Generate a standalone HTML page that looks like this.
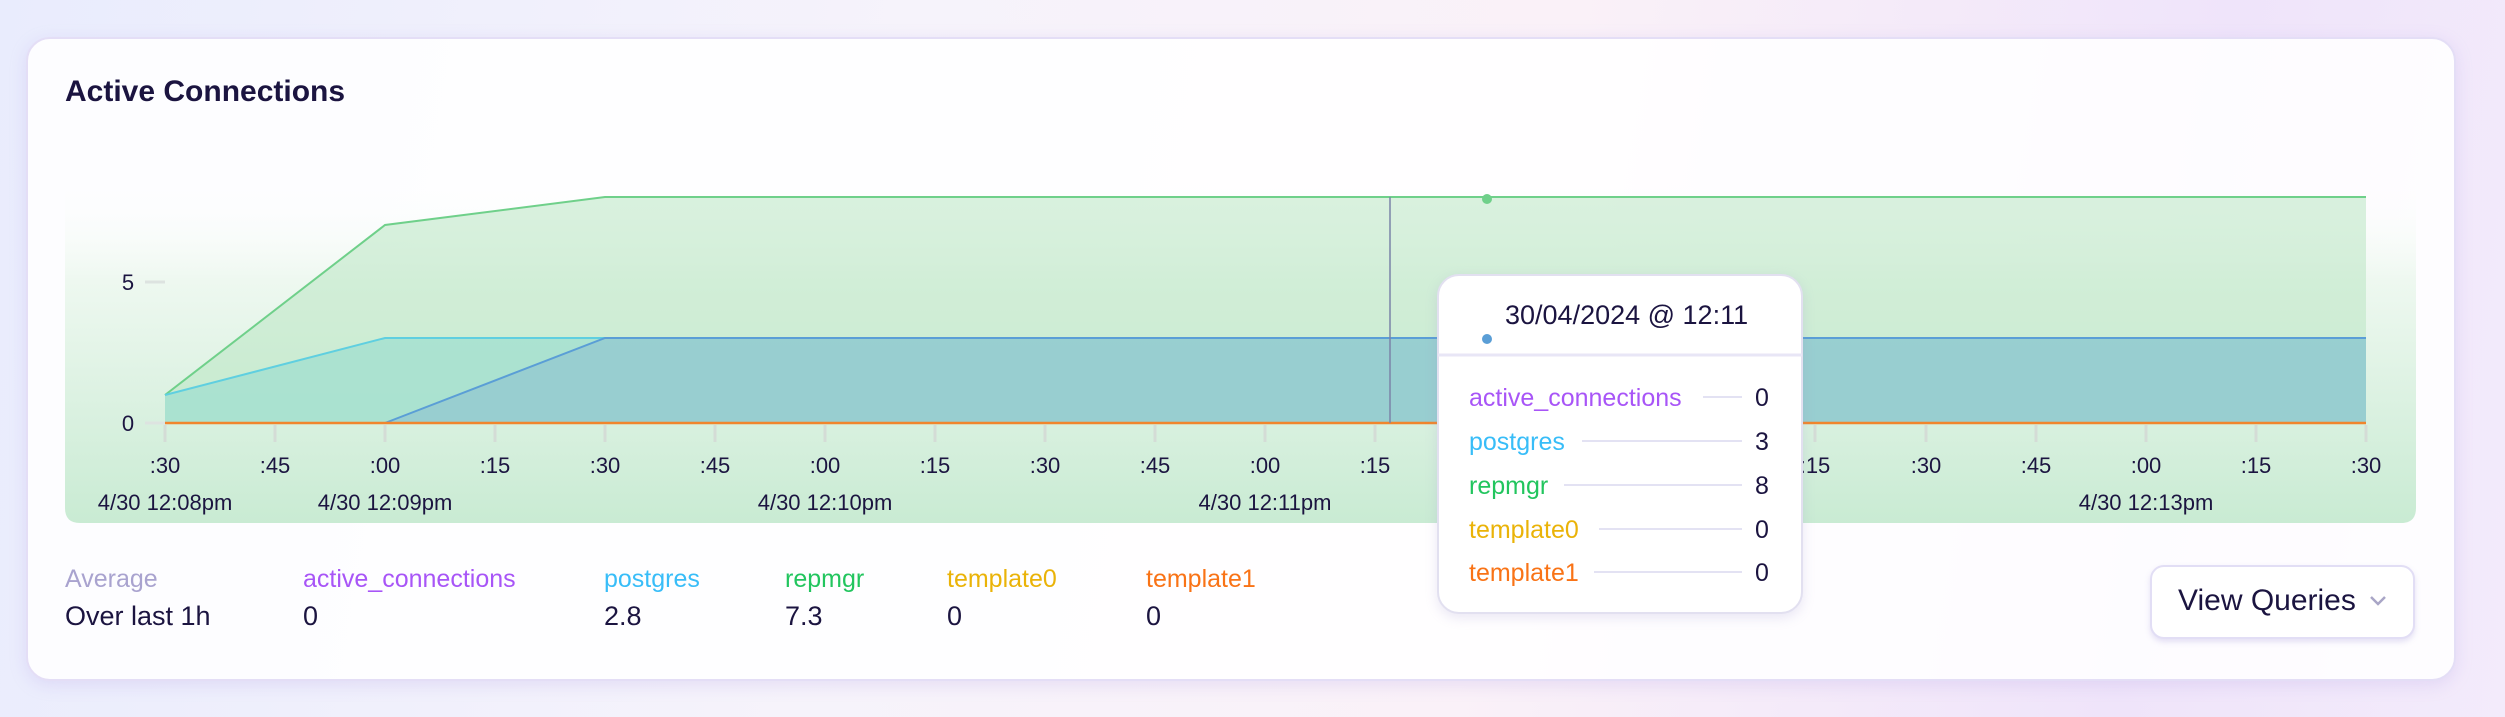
<!DOCTYPE html>
<html><head><meta charset="utf-8"><style>
html,body{margin:0;padding:0}
body{width:2505px;height:717px;overflow:hidden;position:relative;font-family:"Liberation Sans",sans-serif;
background:linear-gradient(100deg,#e9ecfd 0%,#f6f3fb 35%,#faf1f8 60%,#efe4fa 85%,#f3ebfb 100%);}
.card{position:absolute;left:26px;top:37px;width:2430px;height:644px;border-radius:24px;background:rgba(255,255,255,0.88);border:2px solid #e4def6;box-sizing:border-box;box-shadow:0 4px 16px rgba(180,160,230,0.25)}
.t{position:absolute;white-space:nowrap}
</style></head><body>
<div class="card"></div>
<div class="t" style="left:65px;top:75px;font-size:30px;font-weight:bold;color:#1b1440">Active Connections</div>
<svg style="position:absolute;left:0;top:0" width="2505" height="717">
<defs>
<linearGradient id="pg" x1="0" y1="0" x2="0" y2="1">
<stop offset="0" stop-color="#ffffff" stop-opacity="0"/><stop offset="0.3" stop-color="#eef8f0"/><stop offset="1" stop-color="#c9ebd3"/></linearGradient>
</defs>
<path d="M65 176 H2416 V508 Q2416 523 2401 523 H80 Q65 523 65 508 Z" fill="url(#pg)"/>
<polygon points="165,395 385,225 605,197 2366,197 2366,423 165,423" fill="#b9e6c3" fill-opacity="0.55" stroke="none"/>
<polyline points="165,395 385,225 605,197 2366,197" fill="none" stroke="#6fd08a" stroke-width="2"/>
<polygon points="165,395 385,338 2366,338 2366,423 165,423" fill="#a2e0cf" fill-opacity="0.8"/>
<polyline points="165,395 385,338 2366,338" fill="none" stroke="#5fcfe0" stroke-width="2"/>
<polygon points="385,423 605,338 2366,338 2366,423" fill="#93c9cf" fill-opacity="0.8"/>
<polyline points="385,423 605,338 2366,338" fill="none" stroke="#5a9ed6" stroke-width="2"/>
<line x1="165" y1="423" x2="2366" y2="423" stroke="#f0852d" stroke-width="2.5"/>
<line x1="1390" y1="197" x2="1390" y2="423" stroke="#7a84a8" stroke-width="1.5"/>
<line x1="145" y1="282" x2="165" y2="282" stroke="#dde3e0" stroke-width="3"/>
<line x1="145" y1="423" x2="165" y2="423" stroke="#dde3e0" stroke-width="3"/>
<g stroke="#d4dcd6" stroke-width="3">
<line x1="165" y1="425" x2="165" y2="442"/><line x1="275" y1="425" x2="275" y2="442"/><line x1="385" y1="425" x2="385" y2="442"/><line x1="495" y1="425" x2="495" y2="442"/><line x1="605" y1="425" x2="605" y2="442"/><line x1="715" y1="425" x2="715" y2="442"/><line x1="825" y1="425" x2="825" y2="442"/><line x1="935" y1="425" x2="935" y2="442"/><line x1="1045" y1="425" x2="1045" y2="442"/><line x1="1155" y1="425" x2="1155" y2="442"/><line x1="1265" y1="425" x2="1265" y2="442"/><line x1="1375" y1="425" x2="1375" y2="442"/><line x1="1815" y1="425" x2="1815" y2="442"/><line x1="1926" y1="425" x2="1926" y2="442"/><line x1="2036" y1="425" x2="2036" y2="442"/><line x1="2146" y1="425" x2="2146" y2="442"/><line x1="2256" y1="425" x2="2256" y2="442"/><line x1="2366" y1="425" x2="2366" y2="442"/>
</g>
<g font-family="Liberation Sans, sans-serif" font-size="22" fill="#1b1440" text-anchor="middle">
<text x="128" y="290">5</text><text x="128" y="431">0</text>
<text x="165" y="473">:30</text><text x="275" y="473">:45</text><text x="385" y="473">:00</text><text x="495" y="473">:15</text><text x="605" y="473">:30</text><text x="715" y="473">:45</text><text x="825" y="473">:00</text><text x="935" y="473">:15</text><text x="1045" y="473">:30</text><text x="1155" y="473">:45</text><text x="1265" y="473">:00</text><text x="1375" y="473">:15</text><text x="1815" y="473">:15</text><text x="1926" y="473">:30</text><text x="2036" y="473">:45</text><text x="2146" y="473">:00</text><text x="2256" y="473">:15</text><text x="2366" y="473">:30</text>
<text x="165" y="510">4/30 12:08pm</text><text x="385" y="510">4/30 12:09pm</text><text x="825" y="510">4/30 12:10pm</text><text x="1265" y="510">4/30 12:11pm</text><text x="2146" y="510">4/30 12:13pm</text>
</g>
<circle cx="1487" cy="199" r="5" fill="#6fd08a"/>
</svg>
<div style="position:absolute;left:1437px;top:274px;width:366px;height:340px;background:#fff;border:2px solid #e2e0f0;border-radius:22px;box-sizing:border-box;box-shadow:0 4px 12px rgba(150,140,200,0.2)"></div>
<svg style="position:absolute;left:0;top:0" width="2505" height="717">
<line x1="1438" y1="355" x2="1802" y2="355" stroke="#e8e6f6" stroke-width="3"/>
<circle cx="1487" cy="339" r="5" fill="#5a9ed6"/>
<g stroke="#e3e2f3" stroke-width="2">
<line x1="1703" y1="397" x2="1742" y2="397"/><line x1="1582" y1="441" x2="1742" y2="441"/><line x1="1564" y1="485" x2="1742" y2="485"/><line x1="1599" y1="529" x2="1742" y2="529"/><line x1="1594" y1="572" x2="1742" y2="572"/>
</g>
<g font-family="Liberation Sans, sans-serif" font-size="25">
<text x="1505" y="324" fill="#1b1440" font-size="27">30/04/2024 @ 12:11</text>
<text x="1469" y="406" fill="#a855f7">active_connections</text>
<text x="1469" y="450" fill="#38bdf8">postgres</text>
<text x="1469" y="494" fill="#22c55e">repmgr</text>
<text x="1469" y="538" fill="#eab308">template0</text>
<text x="1469" y="581" fill="#f97316">template1</text>
<g fill="#1b1440" text-anchor="middle"><text x="1762" y="406">0</text><text x="1762" y="450">3</text><text x="1762" y="494">8</text><text x="1762" y="538">0</text><text x="1762" y="581">0</text></g>
</g>
</svg>
<div style="font-size:25px">
<div class="t" style="left:65px;top:565px;color:#a9a3cf">Average</div>
<div class="t" style="left:65px;top:601px;color:#1b1440;font-size:27px">Over last 1h</div>
<div class="t" style="left:303px;top:565px;color:#a855f7">active_connections</div>
<div class="t" style="left:303px;top:601px;color:#1b1440;font-size:27px">0</div>
<div class="t" style="left:604px;top:565px;color:#38bdf8">postgres</div>
<div class="t" style="left:604px;top:601px;color:#1b1440;font-size:27px">2.8</div>
<div class="t" style="left:785px;top:565px;color:#22c55e">repmgr</div>
<div class="t" style="left:785px;top:601px;color:#1b1440;font-size:27px">7.3</div>
<div class="t" style="left:947px;top:565px;color:#eab308">template0</div>
<div class="t" style="left:947px;top:601px;color:#1b1440;font-size:27px">0</div>
<div class="t" style="left:1146px;top:565px;color:#f97316">template1</div>
<div class="t" style="left:1146px;top:601px;color:#1b1440;font-size:27px">0</div>
</div>
<div style="position:absolute;left:2150px;top:565px;width:265px;height:74px;border:2px solid #e2def5;border-radius:14px;box-sizing:border-box;background:#fff;box-shadow:0 3px 6px rgba(170,160,220,0.3)"></div>
<div class="t" style="left:2178px;top:584px;font-size:30px;color:#1b1440">View Queries</div>
<svg style="position:absolute;left:2368px;top:594px" width="20" height="14"><polyline points="3,3 10,10 17,3" fill="none" stroke="#a9a6c6" stroke-width="2.5"/></svg>
</body></html>
